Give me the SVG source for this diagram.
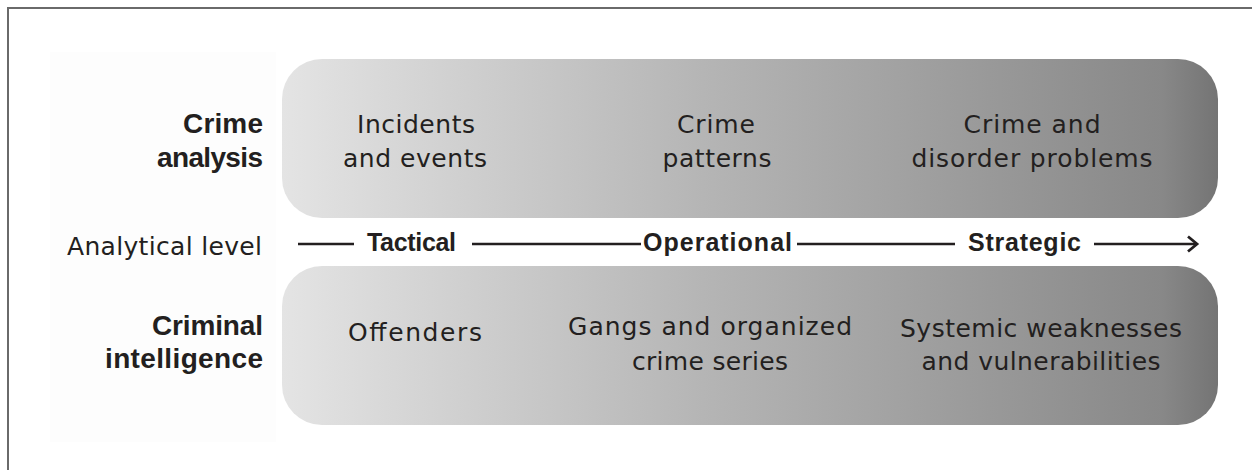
<svg xmlns="http://www.w3.org/2000/svg" width="1252" height="470" viewBox="0 0 1252 470">
  <defs>
    <linearGradient id="boxGrad" x1="0" y1="0" x2="1" y2="0">
      <stop offset="0" stop-color="#e4e4e4"/>
      <stop offset="0.12" stop-color="#d7d7d7"/>
      <stop offset="0.46" stop-color="#b4b4b4"/>
      <stop offset="0.8" stop-color="#959595"/>
      <stop offset="0.94" stop-color="#888888"/>
      <stop offset="1" stop-color="#747474"/>
    </linearGradient>
    <marker id="arrow" markerWidth="14" markerHeight="18" refX="11" refY="9" orient="auto" markerUnits="userSpaceOnUse">
      <path d="M2,1.5 L11,9 L2,16.5" fill="none" stroke="#231f20" stroke-width="2.8"/>
    </marker>
  </defs>
  <style>
    text { font-family: "DejaVu Sans", "Noto Sans", sans-serif; fill: #231f20; }
    .lbl { font-family: "Liberation Sans", Arial, sans-serif; font-size: 28px; font-weight: bold; text-anchor: end; }
    .axis { font-family: "Liberation Sans", Arial, sans-serif; font-size: 25px; font-weight: bold; }
    .reg { font-size: 25px; }
    .box { font-size: 25px; text-anchor: middle; }
    .bx { fill: url(#boxGrad); }
    .ln { stroke: #231f20; stroke-width: 2.6; fill: none; }
  </style>
  <rect x="0" y="0" width="1252" height="470" fill="#ffffff"/>
  <rect x="8" y="8" width="1260" height="480" fill="none" stroke="#6a6a6a" stroke-width="2"/>
  <rect x="50" y="52" width="226" height="390" fill="#fdfdfd"/>

  <g id="row-labels">
    <text class="lbl" x="263" y="133" textLength="80" lengthAdjust="spacing">Crime</text>
    <text class="lbl" x="263" y="167" textLength="106" lengthAdjust="spacing">analysis</text>
    <text class="reg" x="67" y="255" textLength="195" lengthAdjust="spacing">Analytical level</text>
    <text class="lbl" x="263" y="335" textLength="111" lengthAdjust="spacing">Criminal</text>
    <text class="lbl" x="263" y="368" textLength="158" lengthAdjust="spacing">intelligence</text>
  </g>

  <g id="crime-analysis">
    <rect class="bx" x="282" y="59" width="936" height="159" rx="40" ry="40"/>
    <text class="box" x="416" y="133" textLength="118" lengthAdjust="spacing">Incidents</text>
    <text class="box" x="415" y="167" textLength="144" lengthAdjust="spacing">and events</text>
    <text class="box" x="716" y="133" textLength="78" lengthAdjust="spacing">Crime</text>
    <text class="box" x="717" y="167" textLength="109" lengthAdjust="spacing">patterns</text>
    <text class="box" x="1032" y="133" textLength="137" lengthAdjust="spacing">Crime and</text>
    <text class="box" x="1032" y="167" textLength="241" lengthAdjust="spacing">disorder problems</text>
  </g>

  <g id="criminal-intelligence">
    <rect class="bx" x="282" y="266" width="936" height="159" rx="40" ry="40"/>
    <text class="box" x="415" y="341" textLength="134" lengthAdjust="spacing">Offenders</text>
    <text class="box" x="710" y="335" textLength="284" lengthAdjust="spacing">Gangs and organized</text>
    <text class="box" x="710" y="370" textLength="156" lengthAdjust="spacing">crime series</text>
    <text class="box" x="1041" y="337" textLength="282" lengthAdjust="spacing">Systemic weaknesses</text>
    <text class="box" x="1041" y="370" textLength="239" lengthAdjust="spacing">and vulnerabilities</text>
  </g>

  <g id="connectors">
    <line class="ln" x1="298" y1="244" x2="354" y2="244"/>
    <line class="ln" x1="472" y1="244" x2="641" y2="244"/>
    <line class="ln" x1="797" y1="244" x2="955" y2="244"/>
    <line class="ln" x1="1094" y1="244" x2="1197" y2="244" marker-end="url(#arrow)"/>
  </g>

  <g id="axis-labels">
    <text class="axis" x="367" y="251" textLength="89" lengthAdjust="spacing">Tactical</text>
    <text class="axis" x="643" y="251" textLength="149" lengthAdjust="spacing">Operational</text>
    <text class="axis" x="968" y="251" textLength="113" lengthAdjust="spacing">Strategic</text>
  </g>
</svg>
